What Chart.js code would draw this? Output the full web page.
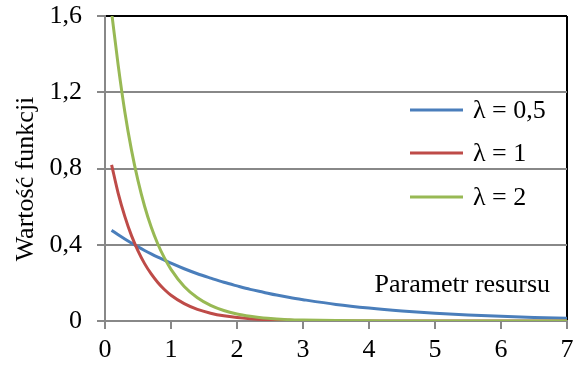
<!DOCTYPE html>
<html>
<head>
<meta charset="utf-8">
<script src="https://cdn.jsdelivr.net/npm/chart.js@4"></script>
<style>
html,body{margin:0;padding:0;background:#fff;}
canvas{display:block;}
</style>
</head>
<body>
<canvas id="c" width="575" height="368"></canvas>
<script>
const xValues = [0.1,0.2,0.3,0.4,0.5,0.6,0.7,0.8,0.9,1.0,1.2,1.4,1.6,1.8,2.0,2.2,2.4,2.6,2.8,3.0,3.5,4.0,4.5,5.0,5.5,6.0,6.5,7.0];
const seriesBlue  = [0.476,0.452,0.430,0.409,0.389,0.370,0.352,0.335,0.319,0.303,0.274,0.248,0.225,0.203,0.184,0.166,0.151,0.136,0.123,0.112,0.087,0.068,0.053,0.041,0.032,0.025,0.019,0.015];
const seriesRed   = [0.819,0.670,0.549,0.449,0.368,0.301,0.247,0.202,0.165,0.135,0.091,0.061,0.041,0.027,0.018,0.012,0.008,0.006,0.004,0.002,0.001,0.000,0.000,0.000,0.000,0.000,0.000,0.000];
const seriesGreen = [1.620,1.341,1.098,0.899,0.736,0.602,0.493,0.404,0.331,0.271,0.181,0.122,0.082,0.055,0.037,0.025,0.016,0.011,0.007,0.005,0.002,0.001,0.000,0.000,0.000,0.000,0.000,0.000];
const seriesLabels = ['λ = 0,5','λ = 1','λ = 2'];
const yTicks = [0,0.4,0.8,1.2,1.6];
const xTicks = [0,1,2,3,4,5,6,7];
const yTitle = 'Wartość funkcji';
const xTitle = 'Parametr resursu';

const FONT = "'Liberation Serif', 'Times New Roman', serif";
const colors = ['#4A7EBB','#BE4B48','#98B954'];

function pts(ys){ return xValues.map((x,i)=>({x:x,y:ys[i]})); }

const overlay = {
  id:'overlay',
  afterDraw(chart){
    const ctx = chart.ctx;
    ctx.save();
    ctx.fillStyle = '#000';
    ctx.font = '26px ' + FONT;
    // y title
    ctx.save();
    ctx.translate(33, 179);
    ctx.rotate(-Math.PI/2);
    ctx.textAlign = 'center';
    ctx.textBaseline = 'alphabetic';
    ctx.fillText(yTitle, 0, 0);
    ctx.restore();
    // x title inside plot
    ctx.textAlign = 'right';
    ctx.textBaseline = 'alphabetic';
    ctx.fillText(xTitle, 550, 292);
    // legend
    const ys = [110,153,197];
    chart.data.datasets.forEach((ds,i)=>{
      ctx.strokeStyle = ds.borderColor;
      ctx.lineWidth = 3;
      ctx.beginPath();
      ctx.moveTo(410, ys[i]);
      ctx.lineTo(463, ys[i]);
      ctx.stroke();
      ctx.textAlign = 'left';
      ctx.textBaseline = 'middle';
      ctx.fillStyle = '#000';
      ctx.fillText(ds.label, 473, ys[i]+1);
    });
    ctx.restore();
  }
};

new Chart(document.getElementById('c'), {
  type:'line',
  data:{
    datasets:[
      {label:seriesLabels[0], data:pts(seriesBlue), borderColor:colors[0], order:3},
      {label:seriesLabels[1], data:pts(seriesRed), borderColor:colors[1], order:2},
      {label:seriesLabels[2], data:pts(seriesGreen), borderColor:colors[2], order:1}
    ].map(d=>Object.assign(d,{borderWidth:3, pointRadius:0, fill:false, cubicInterpolationMode:'monotone', backgroundColor:d.borderColor}))
  },
  options:{
    responsive:false,
    animation:false,
    devicePixelRatio:1,
    layout:{padding:{top:16,right:8,left:0,bottom:0}},
    plugins:{legend:{display:false}, tooltip:{enabled:false}},
    scales:{
      x:{
        type:'linear', min:0, max:7,
        afterBuildTicks(s){ s.ticks = xTicks.map(v=>({value:v})); },
        afterFit(s){ s.height = 47; s.paddingRight = 0; s.paddingLeft = 0; },
        ticks:{font:{family:FONT,size:26}, color:'#000', padding:6, maxRotation:0,
               callback:v=>String(v)},
        grid:{
          color:c=> (c.tick && c.tick.value===7) ? '#000' : 'rgba(0,0,0,0)',
          lineWidth:2, tickColor:'#888', tickLength:8, drawOnChartArea:true
        },
        border:{color:'#888', width:2}
      },
      y:{
        type:'linear', min:0, max:1.6,
        afterBuildTicks(s){ s.ticks = yTicks.map(v=>({value:v})); },
        afterFit(s){ s.width = 105; s.paddingTop = 0; s.paddingBottom = 0; },
        ticks:{font:{family:FONT,size:26}, color:'#000', padding:15,
               callback:v=> v===0 ? '0' : v.toFixed(1).replace('.', ',')},
        grid:{
          color:c=>{ const v = c.tick ? c.tick.value : null; if (v===1.6) return '#000'; if (v===0) return 'rgba(0,0,0,0)'; return '#888'; },
          lineWidth:2, tickColor:'#888', tickLength:8
        },
        border:{color:'#888', width:2}
      }
    }
  },
  plugins:[overlay]
});
</script>
</body>
</html>
